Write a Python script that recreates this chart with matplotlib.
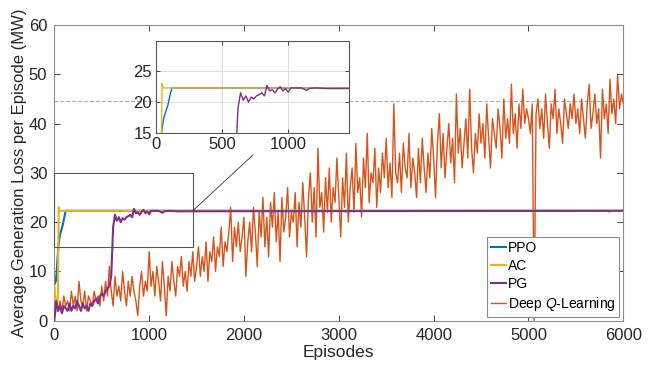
import matplotlib
matplotlib.use('Agg')
import matplotlib.pyplot as plt
from matplotlib.patches import Rectangle, ConnectionPatch
import numpy as np

plt.rcParams['font.family'] = ['Liberation Sans', 'DejaVu Sans']
plt.rcParams['mathtext.fontset'] = 'custom'
plt.rcParams['mathtext.rm'] = 'Liberation Sans'
plt.rcParams['mathtext.it'] = 'Liberation Sans:italic'

# PPO
ppo_x = [0, 5, 15, 25, 35, 45, 60, 75, 90, 105, 120, 6000]
ppo_y = [8, 7.5, 8, 10, 13, 15.5, 17.5, 18.5, 19.5, 21, 22.3, 22.3]

# AC
ac_x = [0, 10, 20, 30, 38, 42, 46, 50, 55, 3070, 3075, 3080, 5850, 5855, 5860, 6000]
ac_y = [7, 5, 3, 2, 5, 15, 23, 22.5, 22.3, 22.3, 22.0, 22.3, 22.3, 22.0, 22.3, 22.3]

# PG
pg_x = list(range(0, 600, 20)) + [600, 620, 640, 660, 680, 700, 720, 740, 760, 780, 800,
                                   820, 840, 860, 880, 900, 920, 940, 960, 980, 1000,
                                   1020, 1100, 1140, 1160, 1200, 1300, 6000]
pg_y = [0, 4, 2, 3, 1.5, 3, 2.5, 2, 3.5, 2, 3, 2.5, 4, 3, 2, 3.5, 2.5, 3, 2, 3.5,
        3, 4, 4.5, 3.5, 5, 5.5, 5, 6, 6.5, 7,
        9, 19, 21.5, 20.3, 21, 20, 20.8, 20.5, 21, 21.2, 21.5,
        21, 22.7, 21.8, 22, 21.5, 22.1, 22.5, 21.8, 22.2, 21.6,
        22.3, 22.3, 21.9, 22.2, 22.3, 22.2, 22.3]

# Deep Q-Learning (every 20 episodes)
dql_y = [7, 3, 2, 4, 2, 5, 3, 4, 2, 6, 3, 5, 2, 8, 4, 3, 6, 2, 5, 4, 3, 6, 4, 5, 3,
         7, 4, 8, 5, 11, 6, 3, 9, 5, 7, 4, 10, 6, 3, 8, 5, 9, 6, 4, 1, 7, 10, 5, 8, 6,
         14, 7, 10, 5, 11, 8, 4, 12, 7, 1, 9, 6, 12, 8, 5, 11, 9, 13, 7, 10, 6, 12, 9, 14, 8,
         11, 15, 9, 13, 10, 16, 8, 14, 12, 17, 10, 15, 13, 19, 11, 16, 14, 18, 23, 12, 19, 15, 20, 14, 17,
         21, 9, 16, 20, 14, 23, 18, 11, 22, 17, 25, 15, 21, 13, 24, 19, 26, 16, 22, 12, 25, 18, 21, 27, 17,
         22, 20, 26, 15, 24, 19, 28, 21, 13, 25, 30, 20, 27, 17, 35, 23, 26, 18, 29, 22, 31, 20, 27, 24, 33,
         25, 17, 29, 23, 34, 20, 27, 31, 22, 36, 26, 29, 21, 33, 27, 38, 24, 30, 28, 35, 23, 31, 26, 34, 29,
         37, 27, 32, 25, 44, 30, 28, 34, 26, 36, 31, 29, 38, 27, 33, 30, 25, 35, 28, 37, 31, 26, 34, 29, 39,
         33, 25, 36, 42, 31, 38, 29, 35, 40, 32, 37, 28, 46, 34, 39, 31, 36, 41, 33, 47, 35, 30, 38, 34, 42,
         36, 40, 33, 44, 37, 31, 41, 38, 35, 43, 39, 33, 45, 37, 41, 36, 48, 38, 42, 35, 44, 39, 47, 40, 43,
         41, 38, 44, 0, 42, 45, 39, 43, 37, 46, 40, 35, 44, 41, 47, 38, 43, 40, 36, 45, 42, 39, 44, 41, 46,
         40, 43, 38, 45, 41, 37, 44, 48, 39, 42, 46, 40, 43, 33, 47, 41, 44, 38, 49, 42, 45, 40, 50, 43, 46,
         44]
dql_x = np.arange(len(dql_y)) * 20

ref_level = 44.5

c_ppo = '#0072BD'
c_ac = '#EDB120'
c_pg = '#7E2F8E'
c_dql = '#D95319'
edge = '#8c8c8c'
txt = '#262626'

fig = plt.figure(figsize=(6.57, 3.68), dpi=100)
ax = fig.add_axes([0.0827, 0.1285, 0.866, 0.8035])

ax.axhline(ref_level, color='#aaaaaa', linestyle='--', linewidth=0.8, zorder=0)
ax.plot(dql_x, dql_y, color=c_dql, linewidth=1.0, zorder=1)
ax.plot(ppo_x, ppo_y, color=c_ppo, linewidth=1.5, label='PPO', zorder=2)
ax.plot(ac_x, ac_y, color=c_ac, linewidth=1.5, label='AC', zorder=3)
ax.plot(pg_x, pg_y, color=c_pg, linewidth=1.5, label='PG', zorder=4)
ax.plot([], [], color=c_dql, linewidth=1.0, label='Deep $\\mathit{Q}$-Learning')

ax.set_xlim(0, 6000)
ax.set_ylim(0, 60)
ax.set_xticks(range(0, 6001, 1000))
ax.set_yticks(range(0, 61, 10))
ax.tick_params(direction='in', top=True, right=True, labelsize=12, colors=txt,
               length=4, width=0.6, pad=5)
for s in ax.spines.values():
    s.set_color(edge)
    s.set_linewidth(0.8)
ax.set_xlabel('Episodes', fontsize=12.5, color=txt, labelpad=2)
ax.set_ylabel('Average Generation Loss per Episode (MW)', fontsize=12, color=txt, labelpad=1)

leg = ax.legend(loc='lower right', fontsize=10, handlelength=1.1, handletextpad=0.15,
                borderpad=0.25, labelspacing=0.3, borderaxespad=0.3, fancybox=False,
                framealpha=1)
leg.get_frame().set_edgecolor(edge)
leg.get_frame().set_linewidth(0.8)
leg.set_zorder(10)

# zoom box
ax.add_patch(Rectangle((0, 15), 1460, 15, fill=False, edgecolor='#555555',
                       linewidth=0.8, zorder=5))

# inset
axi = fig.add_axes([0.2374, 0.6394, 0.2938, 0.25])
axi.plot(ppo_x, ppo_y, color=c_ppo, linewidth=1.0)
axi.plot(ac_x, ac_y, color=c_ac, linewidth=1.0)
axi.plot(pg_x, pg_y, color=c_pg, linewidth=1.0)
axi.set_xlim(0, 1460)
axi.set_ylim(15, 30)
axi.set_xticks([0, 500, 1000])
axi.set_yticks([15, 20, 25])
axi.grid(True, color='#dddddd', linewidth=0.7)
axi.set_axisbelow(True)
axi.tick_params(direction='in', top=True, right=True, labelsize=12, colors=txt,
                length=3, width=0.6, pad=3)
for s in axi.spines.values():
    s.set_color('#555555')
    s.set_linewidth(0.8)

con = ConnectionPatch(xyA=(1460, 22.3), coordsA=ax.transData,
                      xyB=(0.385, 0.579), coordsB=fig.transFigure,
                      color='#333333', linewidth=0.6)
fig.add_artist(con)

fig.savefig('out.png', dpi=100)
